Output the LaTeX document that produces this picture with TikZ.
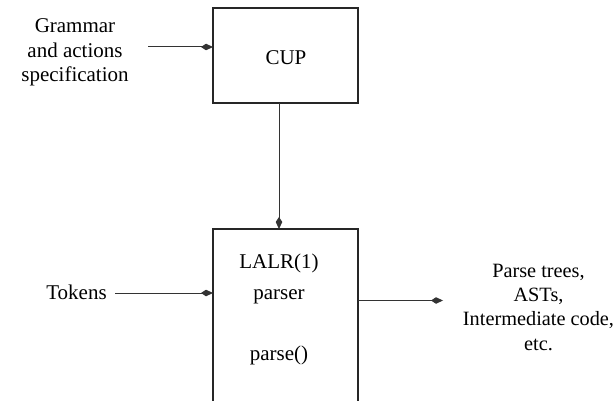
\documentclass[tikz,border=0pt]{standalone}
\usepackage{fontspec}
\setmainfont{Liberation Serif}
\usetikzlibrary{arrows.meta}
\begin{document}
\begin{tikzpicture}[x=1pt,y=-1pt,
  every node/.style={inner sep=0pt, outer sep=0pt},
  txt/.style={font=\fontsize{21}{24.5}\selectfont, align=center, anchor=base},
  boxtxt/.style={font=\fontsize{21}{30.5}\selectfont, align=center, anchor=base},
  blk/.style={draw=black!85, line width=1.1pt, rectangle, anchor=north west},
  arr/.style={draw=black!80, line width=1pt, -{Kite[length=12pt,width=6.5pt,inset=5pt]}}]
\clip (0,0) rectangle (615,401);
\fill[white] (0,0) rectangle (615,401);
% boxes
\node[blk, minimum width=145pt, minimum height=95pt] (cup) at (213,8) {};
\node[blk, minimum width=145pt, minimum height=200pt] (parser) at (213,229) {};
% texts (base anchor = baseline of last line)
\node[boxtxt] (cuptxt) at (286,65) {CUP};
\node[boxtxt] (parsertxt) at (279,360) {LALR(1)\\parser\\\\parse()};
\node[txt] (grammar) at (75,82) {Grammar\\and actions\\specification};
\node[txt] (tokens) at (76.5,299) {Tokens};
\node[txt, font=\fontsize{20.3}{24.3}\selectfont] (output) at (538.5,350) {Parse trees,\\ASTs,\\Intermediate code,\\etc.};
% connectors
\coordinate (gstart) at (148,47);
\coordinate (tstart) at (115,293);
\coordinate (vline) at (279,0);
\coordinate (oend) at (443,300.5);
\draw[arr] (gstart) -- (gstart -| cup.west);
\draw[arr] (tstart) -- (tstart -| parser.west);
\draw[arr] (vline |- cup.south) -- (vline |- parser.north);
\draw[arr] (oend -| parser.east) -- (oend);
\end{tikzpicture}
\end{document}
